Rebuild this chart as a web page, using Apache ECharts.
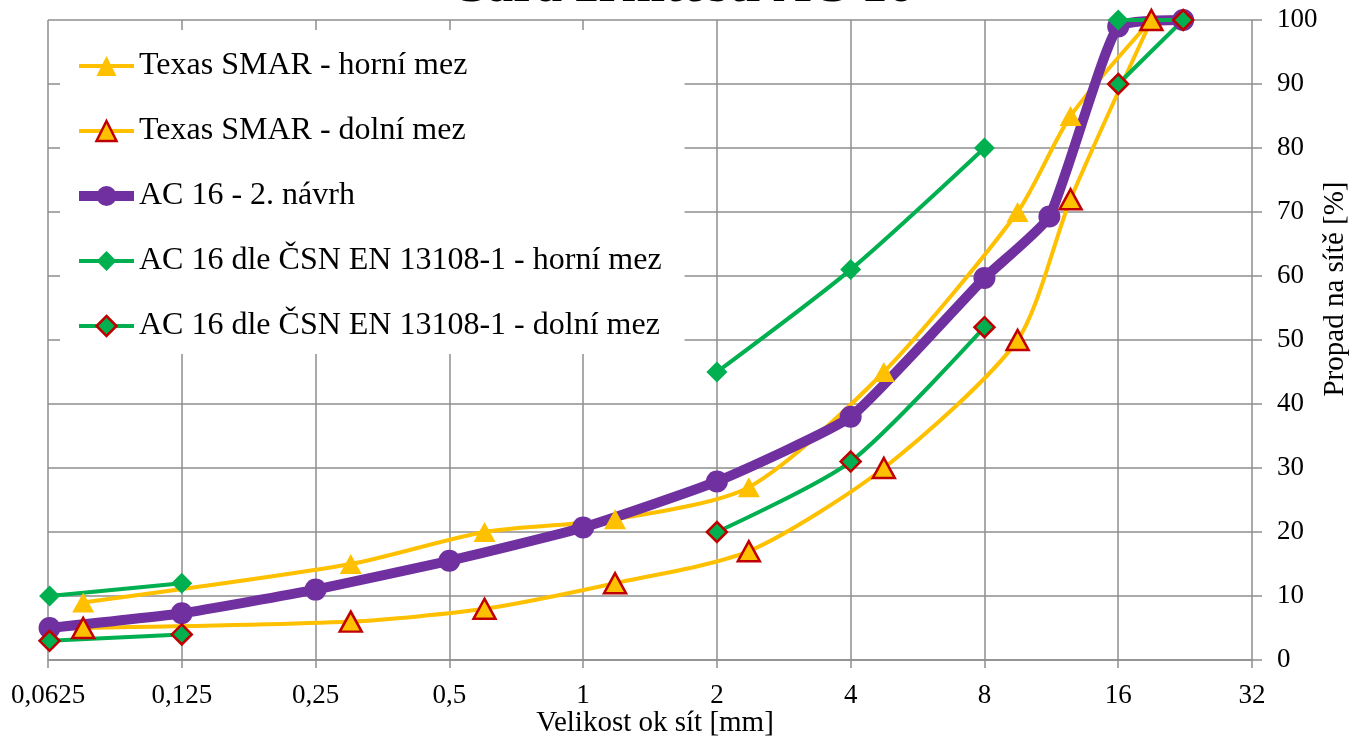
<!DOCTYPE html>
<html>
<head>
<meta charset="utf-8">
<script src="https://cdn.jsdelivr.net/npm/echarts@6/dist/echarts.min.js"></script>
<style>
html,body{margin:0;padding:0;background:#fff;}
#chart{width:1363px;height:738px;}
</style>
</head>
<body>
<div id="chart"></div>
<script>
// ---- data ----
const titleText = 'Čára zrnitosti AC 16';
const xAxisName = 'Velikost ok sít [mm]';
const yAxisName = 'Propad na sítě [%]';
const seriesNames = [
  'Texas SMAR - horní mez',
  'Texas SMAR - dolní mez',
  'AC 16 - 2. návrh',
  'AC 16 dle ČSN EN 13108-1 - horní mez',
  'AC 16 dle ČSN EN 13108-1 - dolní mez'
];
const sieveTexas = [0.075, 0.3, 0.6, 1.18, 2.36, 4.75, 9.5, 12.5, 19];
const texasUpper = [9, 15, 20, 22, 27, 45, 70, 85, 100];
const texasLower = [5, 6, 8, 12, 17, 30, 50, 72, 100];
const sieveEN = [0.063, 0.125, 0.25, 0.5, 1, 2, 4, 8, 11.2, 16, 22.4];
const ac16 = [5, 7.3, 11, 15.5, 20.7, 27.9, 38, 59.7, 69.3, 99, 100];
const csnUpper = [10, 12, null, null, null, 45, 61, 80, null, 100, 100];
const csnLower = [3, 4, null, null, null, 20, 31, 52, null, 90, 100];
const xMin = 0.0625, xMax = 32;
const yMin = 0, yMax = 100, yStep = 10;

// ---- chart ----
const FONT = "'Liberation Serif','Times New Roman',serif";
const YELLOW = '#FFC000', RED = '#C00000', PURPLE = '#7030A0', GREEN = '#00B050';
const GRID = '#8e8e8e';
const SMOOTH = 0.25;
function pairs(xs, ys){ return xs.map((x,i)=>[x, ys[i]==null ? '-' : ys[i]]); }

const chart = echarts.init(document.getElementById('chart'), null, {renderer:'canvas'});
chart.setOption({
  animation:false,
  backgroundColor:'#fff',
  title:{
    text:titleText, left:'center', top:-43,
    textStyle:{fontFamily:FONT, fontSize:52, fontWeight:'bold', color:'#000'}
  },
  grid:{left:48, right:111, top:20, bottom:78, containLabel:false, outerBoundsMode:'none'},
  legend:{
    orient:'vertical', left:60, top:30,
    backgroundColor:'#fff',
    padding:[20,23,12,14],
    itemWidth:55, itemHeight:25, itemGap:33,
    lineStyle:{width:'inherit'},
    itemStyle:{borderWidth:'inherit'},
    textStyle:{fontFamily:FONT, fontSize:32, color:'#000'},
    data:seriesNames
  },
  xAxis:{
    type:'log', logBase:2, min:xMin, max:xMax, interval:1,
    axisLine:{show:true, lineStyle:{color:GRID, width:1.5}},
    axisTick:{show:true, length:8, lineStyle:{color:GRID, width:1.5}},
    splitLine:{show:true, lineStyle:{color:GRID, width:1.5}},
    minorTick:{show:false},
    axisLabel:{fontFamily:FONT, fontSize:27, color:'#000', margin:22,
      formatter:v=>String(+(+v).toPrecision(6)).replace('.', ',')}
  },
  yAxis:{
    type:'value', position:'right', min:yMin, max:yMax, interval:yStep,
    axisLine:{show:false},
    axisTick:{show:true, length:10, lineStyle:{color:GRID, width:1.5}},
    splitLine:{show:true, lineStyle:{color:GRID, width:1.5}},
    axisLabel:{fontFamily:FONT, fontSize:27, color:'#000', margin:25}
  },
  graphic:[{
    type:'text', x:1335, y:289, rotation:Math.PI/2,
    style:{text:yAxisName, fontFamily:FONT, fontSize:29, fill:'#000', align:'center', verticalAlign:'middle'}
  },{
    type:'text', x:655, y:723,
    style:{text:xAxisName, fontFamily:FONT, fontSize:29, fill:'#000', align:'center', verticalAlign:'middle'}
  }],
  series:[
    {name:seriesNames[0], type:'line', smooth:SMOOTH, data:pairs(sieveTexas, texasUpper),
      lineStyle:{color:YELLOW, width:4}, itemStyle:{color:YELLOW},
      symbol:'triangle', symbolSize:[22,20], showAllSymbol:true},
    {name:seriesNames[1], type:'line', smooth:SMOOTH, data:pairs(sieveTexas, texasLower),
      lineStyle:{color:YELLOW, width:4}, itemStyle:{color:YELLOW, borderColor:RED, borderWidth:2.5},
      symbol:'triangle', symbolSize:[22,20], showAllSymbol:true},
    {name:seriesNames[2], type:'line', smooth:0.15, data:pairs(sieveEN, ac16),
      lineStyle:{color:PURPLE, width:10}, itemStyle:{color:PURPLE},
      symbol:'circle', symbolSize:22, showAllSymbol:true},
    {name:seriesNames[3], type:'line', smooth:SMOOTH, connectNulls:false, data:pairs(sieveEN, csnUpper),
      lineStyle:{color:GREEN, width:4}, itemStyle:{color:GREEN},
      symbol:'diamond', symbolSize:21, showAllSymbol:true},
    {name:seriesNames[4], type:'line', smooth:SMOOTH, connectNulls:false, data:pairs(sieveEN, csnLower),
      lineStyle:{color:GREEN, width:4}, itemStyle:{color:GREEN, borderColor:RED, borderWidth:2.5},
      symbol:'diamond', symbolSize:20, showAllSymbol:true}
  ]
});
</script>
</body>
</html>
